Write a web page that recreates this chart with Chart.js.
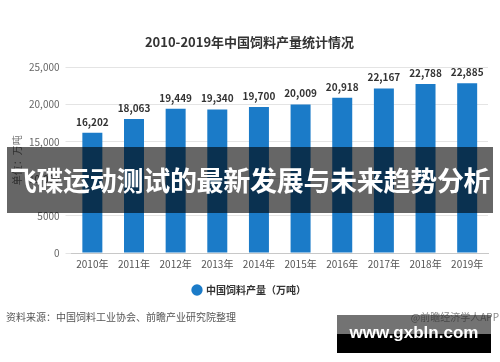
<!DOCTYPE html>
<html>
<head>
<meta charset="utf-8">
<script src="https://cdn.jsdelivr.net/npm/chart.js@4/dist/chart.umd.min.js"></script>
<style>
  html, body { margin: 0; padding: 0; background: #fff; }
  body { width: 500px; height: 362px; position: relative; overflow: hidden;
         font-family: "Noto Sans CJK SC", "Noto Sans", sans-serif; }
  #wrap { position: absolute; left: 0; top: 0; width: 500px; height: 362px; }
  .source { position: absolute; left: 6px; top: 309px; font-size: 10px; color: #555; }
  .app { position: absolute; right: 1px; top: 309px; font-size: 10px; color: #888; }
  .banner { position: absolute; left: 7px; top: 147px; width: 486px; height: 66px;
            background: rgba(0,0,0,0.6); color: #fff; font-weight: bold; font-size: 27px;
            line-height: 66px; text-align: center; white-space: nowrap; letter-spacing: -0.3px; }
  .mark { position: absolute; left: 337px; top: 315px; width: 154px; height: 38px; }
  .mark .top { position: absolute; left: 0; top: 0; width: 154px; height: 19px; background: rgba(40,40,40,0.65); }
  .mark .bot { position: absolute; left: 0; top: 19px; width: 154px; height: 19px; background: #000; }
  .mark .txt { position: absolute; left: 0; top: 8px; width: 154px; text-align: center; color: #fff;
               font-family: "Liberation Sans", Arial, sans-serif; font-weight: bold; font-size: 17px; }
</style>
</head>
<body>
<div id="wrap"><canvas id="feed-chart" width="500" height="362"></canvas></div>
<div class="source">资料来源：中国饲料工业协会、前瞻产业研究院整理</div>
<div class="app">@前瞻经济学人APP</div>
<div class="banner">飞碟运动测试的最新发展与未来趋势分析</div>
<div class="mark"><div class="top"></div><div class="bot"></div><div class="txt">www.gxbln.com</div></div>
<script>
const years = ['2010年', '2011年', '2012年', '2013年', '2014年', '2015年', '2016年', '2017年', '2018年', '2019年'];
const output = [16202, 18063, 19449, 19340, 19700, 20009, 20918, 22167, 22788, 22885];
const yTicks = [0, 5000, 10000, 15000, 20000, 25000];

const fontFamily = '"Noto Sans CJK SC", "Noto Sans", sans-serif';
const barColor = '#1b7bc8';

function fmt(v) {
  return v >= 10000 ? v.toLocaleString('en-US') : String(v);
}

// value labels above each bar
const valueLabels = {
  id: 'valueLabels',
  afterDatasetsDraw(chart) {
    const ctx = chart.ctx;
    const meta = chart.getDatasetMeta(0);
    ctx.save();
    ctx.font = 'bold 10px ' + fontFamily;
    ctx.fillStyle = '#333';
    ctx.textAlign = 'center';
    ctx.textBaseline = 'bottom';
    meta.data.forEach((bar, i) => {
      ctx.fillText(fmt(output[i]), bar.x, bar.y - 6);
    });
    ctx.restore();
  }
};

const ctx = document.querySelector('#feed-chart').getContext('2d');
new Chart(ctx, {
  type: 'bar',
  data: {
    labels: years,
    datasets: [{
      label: '中国饲料产量（万吨）',
      data: output,
      backgroundColor: barColor,
      borderWidth: 0,
      barPercentage: 0.48,
      categoryPercentage: 1.0
    }]
  },
  options: {
    responsive: false,
    animation: false,
    layout: { padding: { left: 11, right: 12, top: 0, bottom: 57 } },
    scales: {
      x: {
        grid: { display: false, drawTicks: false, tickLength: 0 },
        border: { display: true, color: '#c8c8c8' },
        ticks: { color: '#555', font: { family: fontFamily, size: 10 }, padding: 5 }
      },
      y: {
        min: 0,
        max: 25000,
        afterBuildTicks(axis) { axis.ticks = yTicks.map(v => ({ value: v })); },
        grid: { color: '#e4e4e4', tickLength: 6 },
        border: { display: false },
        ticks: { color: '#666', font: { family: fontFamily, size: 10 }, padding: 6, callback: v => fmt(v) },
        title: { display: true, text: '单位：万吨', color: '#777', font: { family: fontFamily, size: 10 }, padding: 0 }
      }
    },
    plugins: {
      title: {
        display: true,
        text: '2010-2019年中国饲料产量统计情况',
        color: '#333',
        font: { family: fontFamily, size: 13, weight: 'bold' },
        padding: { top: 34, bottom: 18 }
      },
      legend: {
        position: 'bottom',
        labels: {
          usePointStyle: true,
          pointStyle: 'circle',
          boxWidth: 8,
          boxHeight: 8,
          color: '#333',
          font: { family: fontFamily, size: 10, weight: 'bold' },
          padding: 10
        }
      },
      tooltip: { enabled: false }
    }
  },
  plugins: [valueLabels]
});
</script>
</body>
</html>
